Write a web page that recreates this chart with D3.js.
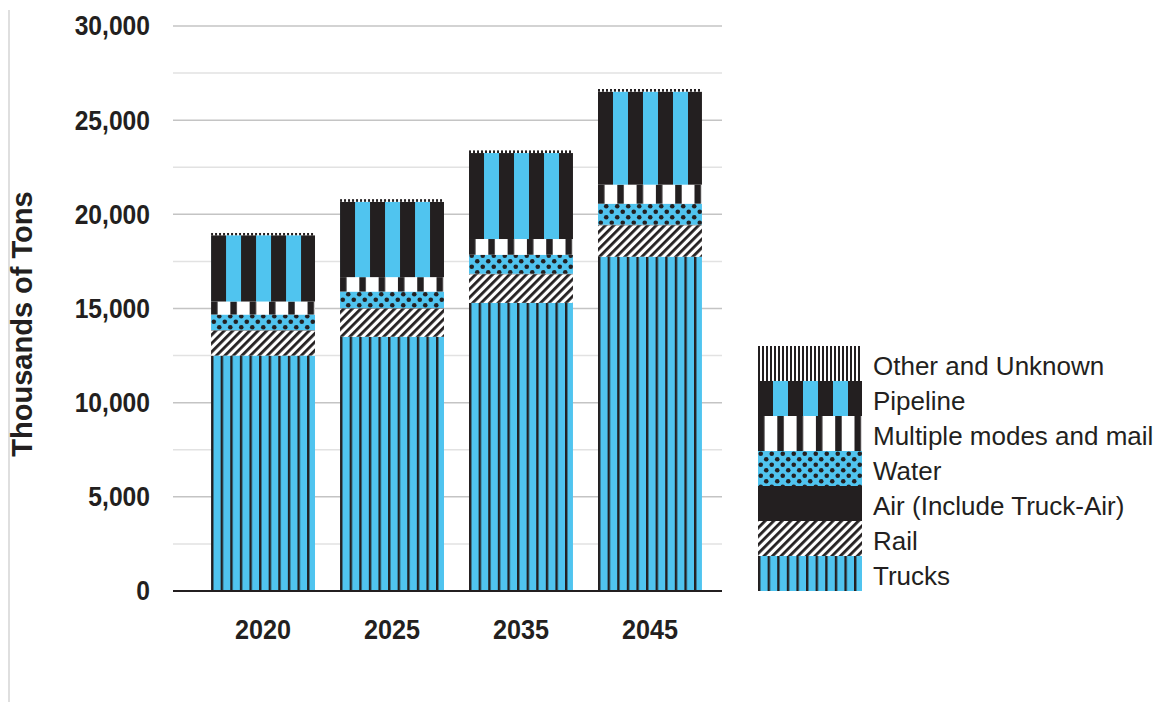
<!DOCTYPE html>
<html>
<head>
<meta charset="utf-8">
<script src="https://cdn.jsdelivr.net/npm/d3@7"></script>
<style>
  body { margin: 0; background: #fff; }
  svg { display: block; }
  .tick-lbl { font-family: "Liberation Sans", Arial, sans-serif; font-weight: bold; font-size: 28px; fill: #231f20; }
</style>
</head>
<body>
<div id="chart"></div>
<script>
// data (thousands of tons)
var years = ["2020", "2025", "2035", "2045"];
var trucks = [12500, 13500, 15300, 17750];
var rail = [1330, 1500, 1520, 1670];
var air = [20, 20, 25, 30];
var water = [830, 880, 1010, 1115];
var multiModes = [690, 765, 834, 1010];
var pipeline = [3520, 4000, 4566, 4940];
var otherUnknown = [120, 140, 140, 140];

var seriesNames = ["Trucks", "Rail", "Air (Include Truck-Air)", "Water",
                   "Multiple modes and mail", "Pipeline", "Other and Unknown"];
var seriesKeys = ["trucks", "rail", "air", "water", "multi", "pipeline", "other"];
var seriesValues = [trucks, rail, air, water, multiModes, pipeline, otherUnknown];
var yTicks = [0, 5000, 10000, 15000, 20000, 25000, 30000];

var W = 1158, H = 716;
var plotLeft = 173, plotRight = 722, plotTop = 26, plotBottom = 591;
var blue = "#50c4ef", black = "#231f20";

var svg = d3.select("#chart").append("svg")
    .attr("width", W)
    .attr("height", H);

var defs = svg.append("defs");

// build table for stacking
var table = years.map(function(yr, i) {
  var row = {year: yr};
  seriesKeys.forEach(function(k, j) { row[k] = seriesValues[j][i]; });
  return row;
});
var stacked = d3.stack().keys(seriesKeys)(table);

var x = d3.scaleBand()
    .domain(years)
    .range([plotLeft, 740])
    .paddingInner(0.194)
    .paddingOuter(0.295);

var y = d3.scaleLinear()
    .domain([0, 30000])
    .range([plotBottom, plotTop]);

// squeeze text horizontally (the original uses a condensed face)
function condense(sel, k) {
  sel.each(function() {
    var w = this.getComputedTextLength();
    d3.select(this).attr("textLength", w * k).attr("lengthAdjust", "spacingAndGlyphs");
  });
}

// patterns, one per series and start x so stripes line up with bar edge
function makePattern(key, x0, id) {
  if (key == "air") return black;
  var p = defs.append("pattern")
    .attr("id", id)
    .attr("patternUnits", "userSpaceOnUse")
    .attr("x", x0).attr("y", 0);
  if (key == "trucks") {
    p.attr("width", 9.6).attr("height", 10);
    p.append("rect").attr("width", 9.6).attr("height", 10).attr("fill", blue);
    p.append("rect").attr("width", 2.4).attr("height", 10).attr("fill", black);
  } else if (key == "rail") {
    p.attr("width", 6).attr("height", 6).attr("patternTransform", "rotate(45)");
    p.append("rect").attr("width", 6).attr("height", 6).attr("fill", "#fff");
    p.append("rect").attr("width", 2.8).attr("height", 6).attr("fill", black);
  } else if (key == "water") {
    p.attr("width", 11).attr("height", 11);
    p.append("rect").attr("width", 11).attr("height", 11).attr("fill", blue);
    p.append("circle").attr("cx", 2.75).attr("cy", 2.75).attr("r", 2.3).attr("fill", black);
    p.append("circle").attr("cx", 8.25).attr("cy", 8.25).attr("r", 2.3).attr("fill", black);
  } else if (key == "multi") {
    p.attr("width", 19.3).attr("height", 10);
    p.append("rect").attr("width", 19.3).attr("height", 10).attr("fill", "#fff");
    p.append("rect").attr("width", 6.5).attr("height", 10).attr("fill", black);
  } else if (key == "pipeline") {
    p.attr("width", 30).attr("height", 10);
    p.append("rect").attr("width", 30).attr("height", 10).attr("fill", blue);
    p.append("rect").attr("width", 15).attr("height", 10).attr("fill", black);
  } else if (key == "other") {
    p.attr("width", 4).attr("height", 4);
    p.append("rect").attr("width", 4).attr("height", 4).attr("fill", "#fff");
    p.append("rect").attr("width", 2).attr("height", 4).attr("fill", black);
  }
  return "url(#" + id + ")";
}

// left border line
svg.append("line")
  .attr("x1", 9).attr("x2", 9)
  .attr("y1", 10).attr("y2", 702)
  .attr("stroke", "#d4d4d4").attr("stroke-width", 1.5);

// gridlines every 2500
var gridVals = d3.range(2500, 30001, 2500);
svg.append("g")
  .selectAll("line")
  .data(gridVals)
  .enter()
  .append("line")
    .attr("x1", plotLeft).attr("x2", plotRight)
    .attr("y1", d => y(d)).attr("y2", d => y(d))
    .attr("stroke", d => d % 5000 == 0 ? "#c4c4c4" : "#e2e2e2")
    .attr("stroke-width", 1.5);

// y labels
var yAxis = svg.append("g")
  .attr("transform", "translate(" + plotLeft + ",0)")
  .call(d3.axisLeft(y).tickValues(yTicks).tickSize(0).tickPadding(23)
    .tickFormat(d3.format(",")));
yAxis.select(".domain").remove();
yAxis.selectAll("text").attr("class", "tick-lbl").attr("fill", null).call(condense, 0.88);

// bars
stacked.forEach(function(layer, j) {
  svg.append("g")
    .selectAll("rect")
    .data(layer)
    .enter()
    .append("rect")
      .attr("x", d => x(d.data.year))
      .attr("width", x.bandwidth())
      .attr("y", d => y(d[1]))
      .attr("height", d => y(d[0]) - y(d[1]))
      .attr("fill", function(d, i) {
        return makePattern(layer.key, x(d.data.year), "p-" + layer.key + "-" + i);
      });
});

// baseline
svg.append("line")
  .attr("x1", plotLeft).attr("x2", plotRight)
  .attr("y1", y(0)).attr("y2", y(0))
  .attr("stroke", black).attr("stroke-width", 2.2);

// x labels
var xAxis = svg.append("g")
  .attr("transform", "translate(0," + plotBottom + ")")
  .call(d3.axisBottom(x).tickSize(0).tickPadding(28));
xAxis.select(".domain").remove();
xAxis.selectAll("text").attr("class", "tick-lbl").attr("fill", null).call(condense, 0.9);

// y title
svg.append("text")
  .attr("transform", "translate(32," + 324 + ") rotate(-90)")
  .attr("text-anchor", "middle")
  .attr("font-family", "Liberation Sans, Arial, sans-serif")
  .attr("font-weight", "bold")
  .attr("font-size", "29px")
  .attr("fill", black)
  .text("Thousands of Tons");

// legend (top entry is last series)
var legX = 758, legW = 104, legRowH = 35, legTop = 346;
var legOrder = d3.range(seriesKeys.length).reverse();
var leg = svg.append("g");
legOrder.forEach(function(j, r) {
  var key = seriesKeys[j];
  leg.append("rect")
    .attr("x", legX)
    .attr("y", legTop + r * legRowH)
    .attr("width", legW)
    .attr("height", legRowH)
    .attr("fill", makePattern(key, legX, "leg-" + key));
  leg.append("text")
    .attr("x", 873)
    .attr("y", legTop + r * legRowH + legRowH / 2 + 2)
    .attr("dominant-baseline", "central")
    .attr("font-family", "Liberation Sans, Arial, sans-serif")
    .attr("font-size", "26px")
    .attr("fill", black)
    .text(seriesNames[j]);
});
</script>
</body>
</html>
